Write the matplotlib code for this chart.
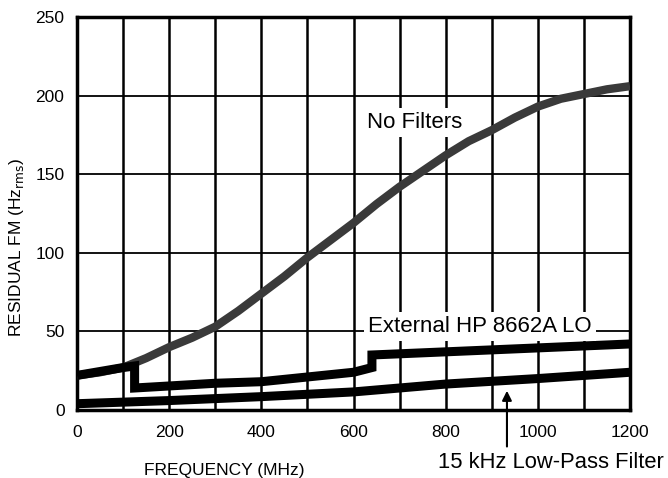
import matplotlib.pyplot as plt

# values
freq_nf = [0, 50, 100, 150, 200, 250, 300, 350, 400, 450, 500, 550, 600,
           650, 700, 750, 800, 850, 900, 950, 1000, 1050, 1100, 1150, 1200]
no_filters = [22, 24, 27, 33, 40, 46, 53, 63, 74, 85, 97, 108, 119,
              131, 142, 152, 162, 171, 178, 186, 193, 198, 201, 204, 206]

freq_lo = [0, 100, 125, 125, 300, 400, 500, 600, 640, 640, 800, 1000, 1200]
ext_lo = [22, 27, 28, 14, 17, 18, 21, 24, 27, 35, 37, 39.5, 42]

freq_lpf = [0, 200, 400, 600, 800, 1000, 1200]
lpf = [4, 6, 8.5, 11.5, 16.5, 20, 24]

x_ticks = [0, 200, 400, 600, 800, 1000, 1200]
y_ticks = [0, 50, 100, 150, 200, 250]

plt.rcParams['font.family'] = ['Liberation Sans', 'DejaVu Sans']

fig = plt.figure(figsize=(6.68, 4.78), dpi=100)
ax = fig.add_axes([77 / 668, 1 - 410 / 478, 553 / 668, 393 / 478])

# grid: heavy verticals every 100 MHz, lighter horizontals
for f in range(100, 1200, 100):
    ax.axvline(f, color='black', lw=1.8, zorder=1)
for v in [50, 100, 150, 200]:
    ax.axhline(v, color='black', lw=1.3, zorder=1)

ax.plot(freq_nf, no_filters, color='#3a3a3a', lw=6, solid_capstyle='butt',
        solid_joinstyle='round', zorder=3)
ax.plot(freq_lo, ext_lo, color='black', lw=6.5, solid_capstyle='butt',
        solid_joinstyle='miter', zorder=3)
ax.plot(freq_lpf, lpf, color='black', lw=6.5, solid_capstyle='butt', zorder=3)

ax.set_xlim(0, 1200)
ax.set_ylim(0, 250)
ax.set_xticks(x_ticks)
ax.set_yticks(y_ticks)
ax.tick_params(length=0, labelsize=12.5)
ax.tick_params(axis='x', pad=11)
ax.tick_params(axis='y', pad=9)
for s in ax.spines.values():
    s.set_linewidth(2.5)

ax.text(733, 183, 'No Filters', fontsize=16, ha='center', va='center', zorder=4,
        bbox=dict(facecolor='white', edgecolor='none', pad=3))
ax.text(874, 53, 'External HP 8662A LO', fontsize=16, ha='center', va='center', zorder=4,
        bbox=dict(facecolor='white', edgecolor='none', pad=3))

ax.annotate('', xy=(933, 14), xytext=(933, -25), annotation_clip=False,
            arrowprops=dict(arrowstyle='-|>', color='black', lw=1.5, mutation_scale=14))
fig.text(551 / 668, 1 - 463 / 478, '15 kHz Low-Pass Filter', fontsize=15.8,
         ha='center', va='center')

fig.text(224 / 668, 1 - 470 / 478, 'FREQUENCY (MHz)', fontsize=12.5, ha='center', va='center')
fig.text(17 / 668, 1 - 247 / 478, r'RESIDUAL FM (Hz$_{\rm rms}$)', fontsize=12.5,
         rotation=90, ha='center', va='center')

fig.savefig('out.png', dpi=100)
